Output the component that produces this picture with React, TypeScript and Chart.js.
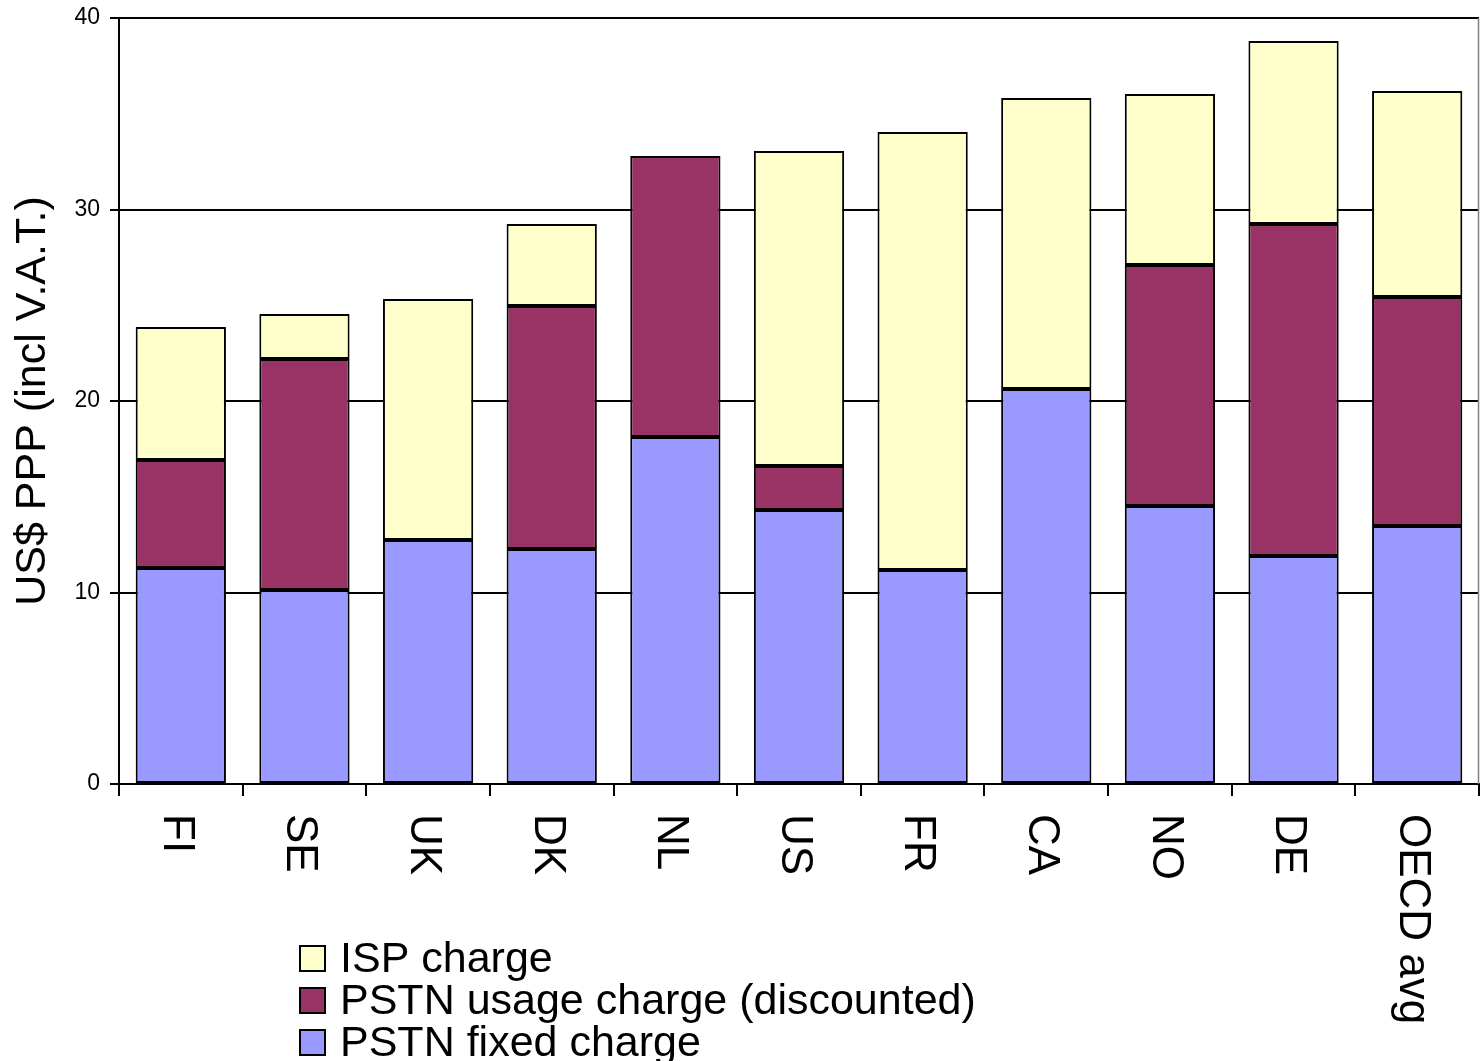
import React, { useEffect, useRef } from "react";
import { Chart, registerables } from "chart.js";
Chart.register(...registerables);

const categories = ["FI", "SE", "UK", "DK", "NL", "US", "FR", "CA", "NO", "DE", "OECD avg"];
const pstnFixed = [11.28, 10.13, 12.74, 12.27, 18.12, 14.31, 11.17, 20.63, 14.52, 11.91, 13.47];
const pstnUsage = [5.64, 12.06, null, 12.69, 14.67, 2.3, null, null, 12.58, 17.33, 11.96];
const ispCharge = [6.94, 2.35, 12.59, 4.28, null, 16.44, 22.88, 15.19, 8.93, 9.56, 10.76];
const seriesLabels = ["PSTN fixed charge", "PSTN usage charge (discounted)", "ISP charge"];
const seriesColors = ["#9999FF", "#993366", "#FFFFCC"];
const yMin = 0;
const yMax = 40;
const yStep = 10;
const yTitle = "US$ PPP (incl V.A.T.)";

const FONT = '"Liberation Sans", Arial, sans-serif';

const customPlugin = {
  id: "customDraw",
  afterDraw(chart: any) {
    const ctx = chart.ctx;
    const ca = chart.chartArea;
    const xs = chart.scales.x;
    ctx.save();
    // right border of plot area
    ctx.strokeStyle = "#808080";
    ctx.lineWidth = 1.5;
    ctx.beginPath();
    ctx.moveTo(ca.right - 0.5, ca.top);
    ctx.lineTo(ca.right - 0.5, ca.bottom);
    ctx.stroke();

    // rotated category labels (reading downward)
    ctx.fillStyle = "#000";
    ctx.font = `44px ${FONT}`;
    ctx.textAlign = "left";
    ctx.textBaseline = "middle";
    chart.data.labels.forEach((lab: string, i: number) => {
      const x = xs.getPixelForValue(i) - 5;
      ctx.save();
      ctx.translate(x, ca.bottom + 30);
      ctx.rotate(Math.PI / 2);
      ctx.fillText(lab, 0, 0);
      ctx.restore();
    });

    // legend (reverse order)
    ctx.font = `43px ${FONT}`;
    const lx = ca.left + 181;
    const ly = ca.bottom + 162;
    const order = [2, 1, 0];
    order.forEach((di, k) => {
      const ds = chart.data.datasets[di];
      const y = ly + k * 42;
      ctx.fillStyle = ds.backgroundColor;
      ctx.fillRect(lx, y, 25, 25);
      ctx.strokeStyle = "#000";
      ctx.lineWidth = 2;
      ctx.strokeRect(lx, y, 25, 25);
      ctx.fillStyle = "#000";
      ctx.textBaseline = "middle";
      ctx.fillText(ds.label, lx + 40, y + 14);
    });
    ctx.restore();
  },
};

export default function App() {
  const ref = useRef<HTMLCanvasElement>(null);
  useEffect(() => {
    document.body.style.margin = "0";
    const datasets = [pstnFixed, pstnUsage, ispCharge].map((d, i) => ({
      label: seriesLabels[i],
      data: d,
      backgroundColor: seriesColors[i],
      borderColor: "#000000",
      borderWidth: 2,
      borderSkipped: false as any,
      barPercentage: 0.73,
      categoryPercentage: 1,
    }));
    const chart = new Chart(ref.current!, {
      type: "bar",
      data: { labels: categories, datasets },
      plugins: [customPlugin],
      options: {
        responsive: false,
        animation: false,
        layout: { padding: { top: 18, right: 4, left: 0, bottom: 0 } },
        plugins: { legend: { display: false }, tooltip: { enabled: false } },
        scales: {
          x: {
            stacked: true,
            offset: true,
            ticks: { display: false },
            grid: {
              display: true,
              drawOnChartArea: false,
              drawTicks: true,
              tickLength: 12,
              color: "#000",
              lineWidth: 2,
              offset: true,
            },
            border: { display: true, color: "#000", width: 2 },
            afterFit: (s: any) => {
              s.height = 277;
            },
          },
          y: {
            stacked: true,
            min: yMin,
            max: yMax,
            ticks: {
              stepSize: yStep,
              color: "#000",
              font: { family: FONT, size: 23 },
              padding: 10,
            },
            grid: { color: "#000", lineWidth: 2, tickLength: 9, drawTicks: true },
            border: { display: true, color: "#000", width: 2 },
            title: {
              display: true,
              text: yTitle,
              color: "#000",
              font: { family: FONT, size: 43 },
              padding: { top: 7, bottom: 0 },
            },
            afterFit: (s: any) => {
              s.width = 119;
              s.paddingTop = 0;
              s.paddingBottom = 0;
            },
          },
        },
      },
    });
    return () => chart.destroy();
  }, []);
  return (
    <div style={{ position: "absolute", left: 0, top: 0, width: 1483, height: 1061, background: "#fff" }}>
      <canvas ref={ref} width={1483} height={1061} style={{ display: "block" }} />
    </div>
  );
}
